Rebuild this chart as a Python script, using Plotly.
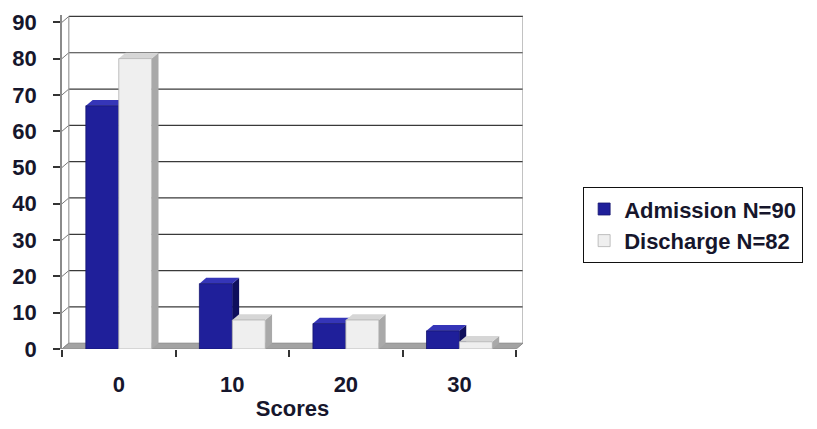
import plotly.graph_objects as go

categories = ["0", "10", "20", "30"]
admission = [67, 18, 7, 5]
discharge = [80, 8, 8, 2]
series_names = ["Admission N=90", "Discharge N=82"]
y_ticks = [0, 10, 20, 30, 40, 50, 60, 70, 80, 90]

# 3D look parameters (data units)
W = 0.29      # bar width
DX = 0.06     # depth in x
DY = 1.6      # depth in y
FAM = "Liberation Sans, Arial, sans-serif"
TXT = "#16162c"

idx = list(range(len(categories)))
fig = go.Figure()

colors = [
    dict(front="#1f1f9a", side="#0f0f5c", top="#3535b8", line="#15156e"),
    dict(front="#efefef", side="#a9a9a9", top="#d6d6d6", line="#b0b0b0"),
]
series = [admission, discharge]
offsets = [-W / 2, W / 2]

for s, (vals, name) in enumerate(zip(series, series_names)):
    fig.add_trace(go.Bar(
        x=[i + offsets[s] for i in idx], y=vals, width=W, name=name,
        marker=dict(color=colors[s]["front"], line=dict(color=colors[s]["line"], width=0.8)),
    ))

shapes = []
x0w, x1w = -0.5, len(categories) - 0.5
# back wall gridlines and left-wall connectors
for v in y_ticks[1:]:
    shapes.append(dict(type="line", xref="x", yref="y", x0=x0w + DX, x1=x1w + DX, y0=v + DY, y1=v + DY,
                       line=dict(color="#3a3a3a", width=1.2), layer="below"))
for v in y_ticks:
    shapes.append(dict(type="line", xref="x", yref="y", x0=x0w, x1=x0w + DX, y0=v, y1=v + DY,
                       line=dict(color="#777", width=1), layer="below"))
# wall edges
for xe in (x0w + DX, x1w + DX):
    shapes.append(dict(type="line", xref="x", yref="y", x0=xe, x1=xe, y0=DY, y1=y_ticks[-1] + DY,
                       line=dict(color="#9a9a9a", width=1.2), layer="below"))
# floor
shapes.append(dict(type="path", xref="x", yref="y",
                   path=f"M{x0w},0 L{x1w},0 L{x1w + DX},{DY} L{x0w + DX},{DY} Z",
                   fillcolor="#a3a3a3", line=dict(color="#8a8a8a", width=1), layer="below"))
# bar side and top faces
for i in idx:
    for s in range(2):
        v = series[s][i]
        xa = i + offsets[s] - W / 2
        xb = i + offsets[s] + W / 2
        shapes.append(dict(type="path", xref="x", yref="y",
                           path=f"M{xb},0 L{xb + DX},{DY} L{xb + DX},{v + DY} L{xb},{v} Z",
                           fillcolor=colors[s]["side"], line=dict(width=0), layer="below"))
        shapes.append(dict(type="path", xref="x", yref="y",
                           path=f"M{xa},{v} L{xb},{v} L{xb + DX},{v + DY} L{xa + DX},{v + DY} Z",
                           fillcolor=colors[s]["top"], line=dict(width=0), layer="below"))

fig.update_layout(
    width=817, height=429,
    margin=dict(l=62, r=294, t=10, b=80),
    paper_bgcolor="white", plot_bgcolor="white",
    barmode="overlay",
    shapes=shapes,
    font=dict(family=FAM, size=22, color=TXT, weight="bold"),
    showlegend=True,
    legend=dict(x=1.13, y=0.485, xanchor="left", yanchor="top",
                bordercolor="#111", borderwidth=1.2, bgcolor="white",
                font=dict(family=FAM, size=22, color=TXT, weight="bold"),
                tracegroupgap=0, itemwidth=30),
    xaxis=dict(range=[x0w, x1w + DX], tickvals=idx, ticktext=categories, ticks="",
               tickfont=dict(family=FAM, size=22, color=TXT, weight="bold"),
               showgrid=False, zeroline=False, showline=False,
               ticklabelstandoff=20,
               minor=dict(tickvals=[k - 0.5 for k in range(len(categories) + 1)], ticks="outside",
                          ticklen=7, tickcolor="#333", tickwidth=1.5, showgrid=False),
               title=dict(text="Scores", standoff=4, font=dict(family=FAM, size=22, color=TXT, weight="bold"))),
    yaxis=dict(range=[0, y_ticks[-1] + 2], tickvals=y_ticks, showgrid=False, zeroline=False,
               tickfont=dict(family=FAM, size=22, color=TXT, weight="bold"),
               showline=True, linecolor="#8a8a8a", linewidth=1.5,
               ticks="outside", ticklen=7, tickcolor="#333", tickwidth=1.5, ticklabelstandoff=12),
)

fig.write_html("out.html")
